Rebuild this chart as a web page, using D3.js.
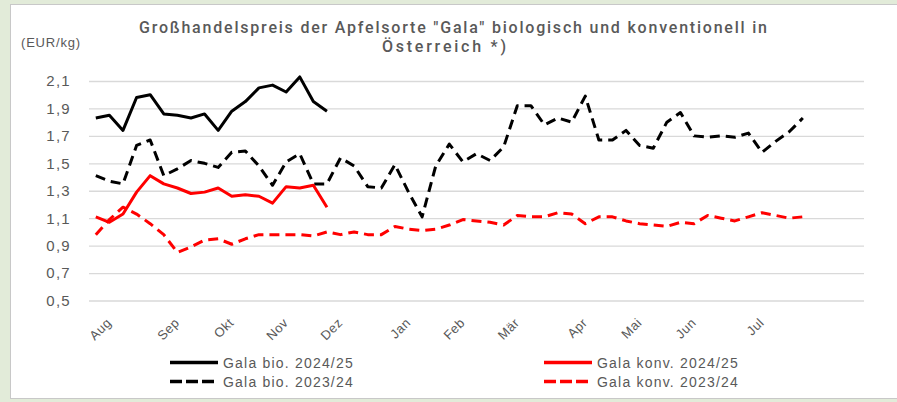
<!DOCTYPE html>
<html>
<head>
<meta charset="utf-8">
<script src="https://cdn.jsdelivr.net/npm/d3@7"></script>
<style>
  html, body { margin: 0; padding: 0; background: #e2ebd9; }
  svg { display: block; }
  text { font-family: "Liberation Sans", Arial, sans-serif; fill: #595959; }
</style>
</head>
<body>
<svg id="chart"></svg>
<script>
// weekly categories (KW31 .. ), month labels at the first week of each month
const weeks = d3.range(57);
const monthNames = ["Aug", "Sep", "Okt", "Nov", "Dez", "Jan", "Feb", "Mär", "Apr", "Mai", "Jun", "Jul"];
const monthWeeks = [0, 5, 9, 13, 17, 22, 26, 30, 35, 39, 43, 48];
const yTicks = [0.5, 0.7, 0.9, 1.1, 1.3, 1.5, 1.7, 1.9, 2.1];

const bio2425 = [1.83, 1.85, 1.74, 1.98, 2.00, 1.86, 1.85, 1.83, 1.86, 1.74, 1.88, 1.95, 2.05, 2.07, 2.02, 2.13, 1.95, 1.88];
const konv2425 = [1.11, 1.07, 1.13, 1.29, 1.41, 1.35, 1.32, 1.28, 1.29, 1.32, 1.26, 1.27, 1.26, 1.21, 1.33, 1.32, 1.34, 1.18];
const bio2324 = [1.41, 1.37, 1.35, 1.63, 1.67, 1.41, 1.46, 1.52, 1.50, 1.47,
                 1.58, 1.59, 1.48, 1.34, 1.51, 1.57, 1.35, 1.35, 1.54, 1.48,
                 1.33, 1.32, 1.49, 1.29, 1.11, 1.48, 1.64, 1.51, 1.57, 1.52,
                 1.62, 1.92, 1.92, 1.78, 1.83, 1.80, 1.99, 1.67, 1.67, 1.74,
                 1.63, 1.61, 1.80, 1.87, 1.70, 1.69, 1.70, 1.69, 1.72, 1.58,
                 1.66, 1.73, 1.83];
const konv2324 = [0.98, 1.09, 1.18, 1.13, 1.06, 0.98, 0.85, 0.89, 0.94, 0.95,
                  0.91, 0.95, 0.98, 0.98, 0.98, 0.98, 0.97, 1.00, 0.98, 1.00,
                  0.98, 0.98, 1.04, 1.02, 1.01, 1.02, 1.05, 1.09, 1.08, 1.07,
                  1.05, 1.12, 1.11, 1.11, 1.14, 1.13, 1.06, 1.11, 1.11, 1.08,
                  1.06, 1.05, 1.04, 1.07, 1.06, 1.12, 1.10, 1.08, 1.11, 1.14,
                  1.12, 1.10, 1.11];

const series = [
  { name: "Gala bio. 2023/24", values: bio2324, color: "#000000", dash: "10,6" },
  { name: "Gala konv. 2023/24", values: konv2324, color: "#ff0000", dash: "10,6" },
  { name: "Gala bio. 2024/25", values: bio2425, color: "#000000", dash: null },
  { name: "Gala konv. 2024/25", values: konv2425, color: "#ff0000", dash: null }
];

const width = 897, height = 402;
const svg = d3.select("#chart").attr("width", width).attr("height", height);

// frame
svg.append("rect")
    .attr("x", 10.5).attr("y", 4.5)
    .attr("width", width).attr("height", 394)
    .attr("fill", "#ffffff")
    .attr("stroke", "#c8c8c8");

let x = d3.scalePoint()
    .domain(weeks)
    .range([89, 864])
    .padding(0.5);

let y = d3.scaleLinear()
    .domain([0.5, 2.1])
    .range([300.5, 81]);

// y axis + gridlines
let yAxis = d3.axisLeft(y)
    .tickValues(yTicks)
    .tickSize(-(864 - 89))
    .tickPadding(18)
    .tickFormat(d => d.toFixed(1).replace(".", ","));

let gy = svg.append("g")
    .attr("transform", "translate(89,0)")
    .call(yAxis);
gy.select(".domain").remove();
gy.selectAll("line").attr("stroke", "#d9d9d9").attr("stroke-width", 1.3);
gy.selectAll("text")
    .style("font-family", "'Liberation Sans', Arial, sans-serif")
    .style("font-size", "15px")
    .style("letter-spacing", "1.3px")
    .attr("fill", "#595959");

// x axis with month labels
let xAxis = d3.axisBottom(x)
    .tickValues(monthWeeks)
    .tickSize(0)
    .tickFormat((d, i) => monthNames[i]);

let gx = svg.append("g")
    .attr("transform", "translate(0,300.5)")
    .call(xAxis);
gx.select(".domain").remove();
gx.selectAll("text")
    .attr("fill", "#595959")
    .style("font-family", "'Liberation Sans', Arial, sans-serif")
    .style("font-size", "13px")
    .style("letter-spacing", "0.5px")
    .attr("text-anchor", "end")
    .attr("dy", 0)
    .attr("y", 0)
    .attr("transform", "translate(16,23) rotate(-45)");

// lines
let line = d3.line()
    .x((d, i) => x(weeks[i]))
    .y(d => y(d));

svg.selectAll("path.series")
    .data(series)
    .enter()
    .append("path")
    .attr("class", "series")
    .attr("d", d => line(d.values))
    .attr("fill", "none")
    .attr("stroke", d => d.color)
    .attr("stroke-width", 3)
    .attr("stroke-linejoin", "round")
    .attr("stroke-dasharray", d => d.dash);

// title
svg.append("text")
    .attr("x", 453).attr("y", 33)
    .attr("text-anchor", "middle")
    .attr("textLength", 628)
    .attr("lengthAdjust", "spacing")
    .style("font-family", "Roboto, 'Liberation Sans', sans-serif")
    .style("font-size", "16px")
    .style("font-weight", "500")
    .text('Großhandelspreis der Apfelsorte "Gala" biologisch und konventionell in');
svg.append("text")
    .attr("x", 444).attr("y", 52)
    .attr("text-anchor", "middle")
    .attr("textLength", 124)
    .attr("lengthAdjust", "spacing")
    .style("font-family", "Roboto, 'Liberation Sans', sans-serif")
    .style("font-size", "16px")
    .style("font-weight", "500")
    .text("Österreich *)");

svg.append("text")
    .attr("x", 21).attr("y", 47)
    .style("font-size", "13px")
    .style("letter-spacing", "0.8px")
    .text("(EUR/kg)");

// legend
const legendOrder = [series[2], series[3], series[0], series[1]];
let legend = svg.selectAll("g.legend")
    .data(legendOrder)
    .enter()
    .append("g")
    .attr("class", "legend")
    .attr("transform", (d, i) => `translate(${i % 2 === 0 ? 170 : 544},${i < 2 ? 362.5 : 381.5})`);

legend.append("line")
    .attr("x1", 0).attr("x2", 48)
    .attr("y1", 0).attr("y2", 0)
    .attr("stroke", d => d.color)
    .attr("stroke-width", 3.5)
    .attr("stroke-dasharray", d => d.dash ? "12,4" : null);

legend.append("text")
    .attr("x", 53).attr("y", 5)
    .style("font-size", "14px")
    .style("letter-spacing", "1.2px")
    .attr("fill", "#404040")
    .text(d => d.name);
</script>
</body>
</html>
